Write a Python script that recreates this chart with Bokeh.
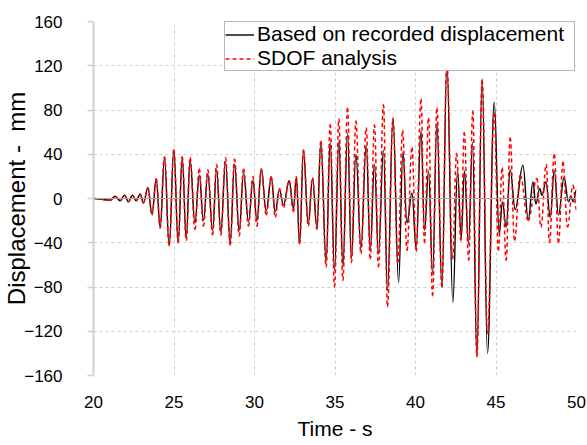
from bokeh.plotting import figure
from bokeh.models import Span, Legend, LegendItem, FixedTicker, Range1d
from bokeh.embed import file_html
from bokeh.resources import INLINE

# Recorded displacement (extrema)
t_rec = [20.0, 21.04, 21.35, 21.66, 21.93, 22.17, 22.42, 22.65, 22.9, 23.1,
         23.38, 23.63, 23.9, 24.14, 24.41, 24.7, 24.99, 25.26, 25.51, 25.76,
         26.0, 26.3, 26.57, 26.83, 27.1, 27.4, 27.64, 27.91, 28.2, 28.49,
         28.76, 29.05, 29.32, 29.63, 29.9, 30.15, 30.42, 30.73, 31.04, 31.29,
         31.55, 31.8, 32.15, 32.42, 32.6, 32.8, 33.04, 33.34, 33.6, 33.88,
         34.12, 34.45, 34.7, 34.97, 35.24, 35.49, 35.78, 36.02, 36.3, 36.61,
         36.94, 37.19, 37.45, 37.7, 38.01, 38.26, 38.6, 38.95, 39.22, 39.47,
         39.78, 40.04, 40.34, 40.56, 40.81, 41.06, 41.33, 41.64, 41.95, 42.32,
         42.61, 42.84, 43.04, 43.29, 43.54, 43.81, 44.14, 44.47, 44.89, 45.2,
         45.4, 45.63, 45.88, 46.19, 46.67, 47.0, 47.3, 47.47, 47.72, 47.85,
         48.1, 48.37, 48.62, 48.88, 49.23, 49.5, 49.65, 49.8, 50.0]
d_rec = [0, -1.5, 2, -2, 3, -3, 3, -2, 4, -4,
         9.5, -14, 17, -26, 37, -43, 44, -39.5, 37, -36,
         35, -22, 21, -20, 22, -29, 26, -30, 33, -40,
         31, -29, 23, -21, 16, -20, 26, -11, 19, -12,
         8, -6, 16, -9, 19, -41, 43, -23, 18, -26,
         50, -57, 51, -65, 52, -61, 59, -54, 40, -45,
         48, -47, 31, -50, 44, -83, 73, -76, 42, -22,
         5, -45, 61, -29, 25, -68, 68, -80, 122, -94,
         25, -35, 25, -41, 51, -142, 108, -140, 87, -32,
         -3, -26, 26, -10, 30, -19, 15, -5, 9, 3,
         15, -17, 25, -15, 19, -3, 2, -3, 8]

# SDOF analysis (extrema)
t_sdof = [20.0, 21.04, 21.35, 21.66, 21.93, 22.17, 22.42, 22.65, 22.9, 23.1,
          23.38, 23.63, 23.9, 24.14, 24.41, 24.7, 24.99, 25.26, 25.51, 25.76,
          26.0, 26.3, 26.57, 26.83, 27.1, 27.4, 27.64, 27.91, 28.2, 28.49,
          28.76, 29.05, 29.32, 29.63, 29.9, 30.15, 30.42, 30.73, 31.04, 31.29,
          31.55, 31.8, 32.15, 32.42, 32.6, 32.8, 33.04, 33.34, 33.6, 33.88,
          34.12, 34.45, 34.7, 34.97, 35.24, 35.49, 35.78, 36.02, 36.3, 36.61,
          36.94, 37.19, 37.45, 37.7, 38.01, 38.26, 38.6, 38.9, 39.2, 39.47,
          39.78, 40.04, 40.34, 40.56, 40.81, 41.06, 41.33, 41.64, 41.95, 42.3,
          42.55, 42.82, 43.03, 43.3, 43.56, 43.81, 44.14, 44.47, 44.89, 45.15,
          45.38, 45.63, 45.88, 46.15, 46.5, 47.0, 47.54, 47.79, 48.12, 48.32,
          48.62, 48.88, 49.16, 49.44, 49.78, 50.0]
d_sdof = [0, -1.5, 2, -2, 3, -3, 3, -2, 4, -4,
          10, -15, 18, -27, 38, -42, 44, -40, 38, -38,
          37, -28, 27, -25, 26, -33, 31, -33, 37, -42,
          36, -34, 27, -25, 20, -25, 27, -15, 20, -17,
          9, -8, 16, -12, 20, -41, 44, -25, 19, -28,
          52, -62, 67, -80, 72, -74, 82, -58, 70, -50,
          64, -55, 67, -62, 85, -98, 72, -58, 62, -47,
          46, -48, 90, -40, 73, -88, 82, -80, 122, -55,
          41, -38, 60, -56, 79, -143, 107, -122, 77, -47,
          28, -56, 55, -38, 21, -20, 18, -26, 31, -40,
          40, -40, 33, -26, 12, -10]

x_ticks = [20, 25, 30, 35, 40, 45, 50]
y_ticks = [-160, -120, -80, -40, 0, 40, 80, 120, 160]

FONT = "Liberation Sans"


def smooth_segments(t, d):
    # cubic segments between consecutive extrema, flat tangents at each extremum
    x0, y0, x1, y1, cx0, cy0, cx1, cy1 = [], [], [], [], [], [], [], []
    for i in range(len(t) - 1):
        h = (t[i + 1] - t[i]) * 0.4
        x0.append(t[i]); y0.append(d[i]); x1.append(t[i + 1]); y1.append(d[i + 1])
        cx0.append(t[i] + h); cy0.append(d[i]); cx1.append(t[i + 1] - h); cy1.append(d[i + 1])
    return dict(x0=x0, y0=y0, x1=x1, y1=y1, cx0=cx0, cy0=cy0, cx1=cx1, cy1=cy1)


p = figure(width=587, height=445, output_backend="svg", toolbar_location=None,
           x_range=Range1d(20, 50), y_range=Range1d(-160, 160),
           min_border_left=93, min_border_right=11, min_border_top=21,
           min_border_bottom=70)
p.outline_line_color = None
p.background_fill_color = "white"

for g in (p.xgrid, p.ygrid):
    g.grid_line_color = "#d0d0d0"
    g.grid_line_dash = "3 3"
    g.grid_line_width = 1
p.xgrid.ticker = FixedTicker(ticks=x_ticks)
p.ygrid.ticker = FixedTicker(ticks=y_ticks)

p.xaxis.ticker = FixedTicker(ticks=x_ticks)
p.yaxis.ticker = FixedTicker(ticks=y_ticks)
p.xaxis.axis_line_color = None
p.xaxis.major_tick_line_color = None
p.xaxis.minor_tick_line_color = None
p.xaxis.major_label_standoff = 14
p.xaxis.axis_label = "Time - s"
p.xaxis.axis_label_standoff = 6

p.yaxis.axis_line_color = "#d0d0d0"
p.yaxis.axis_line_width = 2
p.yaxis.major_tick_line_color = "#d0d0d0"
p.yaxis.major_tick_line_width = 1.5
p.yaxis.major_tick_out = 6
p.yaxis.major_tick_in = 0
p.yaxis.minor_tick_line_color = None
p.yaxis.major_label_standoff = 25
p.yaxis.axis_label = "Displacement -\u00a0\u00a0mm"
p.yaxis.axis_label_standoff = -9

for ax in (p.xaxis[0], p.yaxis[0]):
    ax.major_label_text_font = FONT
    ax.major_label_text_font_size = "17px"
    ax.major_label_text_color = "black"
    ax.axis_label_text_font = FONT
    ax.axis_label_text_font_style = "normal"
    ax.axis_label_text_color = "black"
p.xaxis.axis_label_text_font_size = "21px"
p.yaxis.axis_label_text_font_size = "24px"

p.add_layout(Span(location=0, dimension="width", line_color="#a6a6a6", line_width=1))

src_rec = smooth_segments(t_rec, d_rec)
src_sdof = smooth_segments(t_sdof, d_sdof)
r1 = p.bezier(line_color="black", line_width=1.4, **src_rec)
r2 = p.bezier(line_color="#ff0000", line_width=1.5, line_dash="4 3", **src_sdof)

legend = Legend(items=[LegendItem(label="Based on recorded displacement", renderers=[r1]),
                       LegendItem(label="SDOF analysis", renderers=[r2])],
                location=(131, 304))
legend.label_text_font = FONT
legend.label_text_font_size = "21px"
legend.label_text_color = "black"
legend.label_height = 21
legend.label_width = 317
legend.glyph_height = 21
legend.glyph_width = 29
legend.label_standoff = 3
legend.spacing = -7
legend.padding = 0
legend.margin = 0
legend.border_line_color = "#707070"
legend.border_line_width = 1.5
legend.background_fill_alpha = 1
p.add_layout(legend)

open("out.html", "w").write(file_html(p, INLINE))
